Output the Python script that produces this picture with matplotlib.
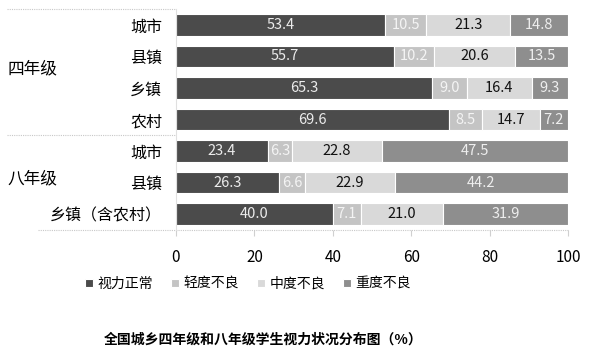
import numpy as np
import matplotlib
matplotlib.use("Agg")
import matplotlib.pyplot as plt
import matplotlib.transforms as mtransforms

plt.rcParams["font.family"] = ["Noto Sans CJK SC", "DejaVu Sans"]

categories = ["城市", "县镇", "乡镇", "农村", "城市", "县镇", "乡镇（含农村）"]
groups = ["四年级", "八年级"]
group_sizes = [4, 3]
series_names = ["视力正常", "轻度不良", "中度不良", "重度不良"]
normal = [53.4, 55.7, 65.3, 69.6, 23.4, 26.3, 40.0]
mild = [10.5, 10.2, 9.0, 8.5, 6.3, 6.6, 7.1]
moderate = [21.3, 20.6, 16.4, 14.7, 22.8, 22.9, 21.0]
severe = [14.8, 13.5, 9.3, 7.2, 47.5, 44.2, 31.9]
xticks = [0, 20, 40, 60, 80, 100]
title = "全国城乡四年级和八年级学生视力状况分布图（%）"

colors = ["#4b4b4b", "#c4c4c4", "#d9d9d9", "#8e8e8e"]
text_colors = ["#ececec", "#f4f4f4", "#111111", "#eeeeee"]

fig = plt.figure(figsize=(5.89, 3.6), dpi=100)
ax = fig.add_axes([176 / 589, 1 - 229.75 / 360, 392 / 589, 220.5 / 360])

y = np.arange(len(categories))
left = np.zeros(len(categories))
for vals, col, tcol, name in zip([normal, mild, moderate, severe], colors, text_colors, series_names):
    vals = np.array(vals)
    ax.barh(y, vals, left=left, height=0.67, color=col, edgecolor="white", linewidth=0.8, label=name)
    for yi, l, v in zip(y, left, vals):
        ax.text(l + v / 2, yi, f"{v:.1f}", ha="center", va="center", color=tcol, fontsize=10.5)
    left = left + vals

ax.set_xlim(0, 100)
ax.set_ylim(len(categories) - 0.5, -0.5)
ax.set_xticks(xticks)
ax.set_yticks(y)
ax.set_yticklabels(categories, fontsize=11.5)
ax.tick_params(axis="y", length=0, pad=10)
ax.tick_params(axis="x", length=4, color="#d0d0d0", labelsize=11, pad=10)
for s in ["top", "right"]:
    ax.spines[s].set_visible(False)
ax.spines["left"].set_color("#e0e0e0")
ax.spines["bottom"].set_visible(False)

trans = mtransforms.blended_transform_factory(ax.transAxes, ax.transData)
line_kw = dict(color="#c8c8c8", linewidth=0.8, linestyle=(0, (1, 1)), clip_on=False, transform=trans)
ax.plot([-0.43, 0], [-0.5, -0.5], **line_kw)
ax.plot([-0.43, 0], [group_sizes[0] - 0.5, group_sizes[0] - 0.5], **line_kw)
ax.plot([-0.352, 1], [len(categories) - 0.5, len(categories) - 0.5], **line_kw)

start = 0
for g, n in zip(groups, group_sizes):
    ax.text(-0.43, start + (n - 1) / 2 - 0.1, g, transform=trans, ha="left", va="center", fontsize=12)
    start += n

fig.legend(loc="center", bbox_to_anchor=(248 / 589, 1 - 284 / 360), ncol=4, frameon=False,
           handlelength=0.55, handleheight=0.55, handletextpad=0.35, columnspacing=1.3, fontsize=10)

fig.text(263 / 589, 1 - 340 / 360, title, ha="center", va="center", fontsize=10, fontweight="bold")

fig.savefig("out.png", dpi=100)
